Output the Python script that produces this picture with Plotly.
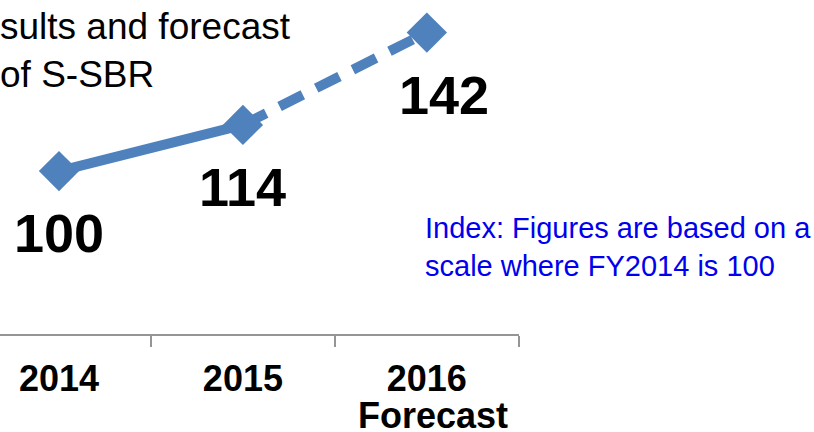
import plotly.graph_objects as go

# ---- data ----
categories = ["2014", "2015", "2016"]
tick_labels = ["2014", "2015", "2016"]
sub_labels = ["", "", "Forecast"]
index_values = [100, 114, 142]
actual_count = 2          # 2014-2015 are results, 2016 is a forecast
title_lines = ["sults and forecast", "of S-SBR"]
note_lines = ["Index: Figures are based on a", "scale where FY2014 is 100"]

BLUE = "#4F81BD"
FONT = "Liberation Sans, Arial, sans-serif"

fig = go.Figure()

# results (solid)
fig.add_trace(go.Scatter(
    x=categories[:actual_count], y=index_values[:actual_count],
    mode="lines", line=dict(color=BLUE, width=10),
    hoverinfo="skip", showlegend=False))
# forecast (dashed)
fig.add_trace(go.Scatter(
    x=categories[actual_count - 1:], y=index_values[actual_count - 1:],
    mode="lines", line=dict(color=BLUE, width=10, dash="26px,15px"),
    hoverinfo="skip", showlegend=False))
# markers
fig.add_trace(go.Scatter(
    x=categories, y=index_values, mode="markers",
    marker=dict(symbol="diamond", size=31, color=BLUE, line=dict(width=0)),
    showlegend=False, cliponaxis=False, hoverinfo="skip"))

annotations = []
# value labels (category axis annotations use the category index)
label_xshift = [0, 0, 17]
for i, v in enumerate(index_values):
    annotations.append(dict(
        x=i, y=v, xref="x", yref="y", text=str(v), showarrow=False,
        xshift=label_xshift[i], yshift=-62,
        font=dict(family=FONT, size=54, color="black", weight="bold")))

# second line of category labels
for i, s in enumerate(sub_labels):
    if s:
        annotations.append(dict(
            x=i, y=-0.178, xref="x", yref="paper", text=s, showarrow=False,
            xanchor="center", yanchor="top", xshift=6,
            font=dict(family=FONT, size=36, color="black", weight="bold")))

# title (cropped at left)
annotations.append(dict(
    x=0, y=1.0, xref="paper", yref="paper", xshift=-2, yshift=-4,
    text="<br>".join(title_lines), showarrow=False, align="left",
    xanchor="left", yanchor="top",
    font=dict(family=FONT, size=37, color="black")))

# index note
annotations.append(dict(
    x=423 / 519, y=(334 - 210) / 334, xref="paper", yref="paper",
    text="<br>".join(note_lines), showarrow=False, align="left",
    xanchor="left", yanchor="top",
    font=dict(family=FONT, size=29, color="#0000EE")))

fig.update_layout(
    width=814, height=432,
    margin=dict(l=0, r=295, t=0, b=98, autoexpand=False),
    paper_bgcolor="white", plot_bgcolor="white",
    annotations=annotations,
    hovermode=False,
    xaxis=dict(
        type="category", categoryorder="array", categoryarray=categories,
        tickmode="array", tickvals=categories, ticktext=tick_labels,
        range=[-0.3207, 2.501], tickson="boundaries",
        ticks="outside", ticklen=11, tickwidth=2, tickcolor="#959595",
        showline=True, linecolor="#959595", linewidth=2,
        showgrid=False, zeroline=False, automargin=False,
        ticklabelstandoff=12,
        tickfont=dict(family=FONT, size=36, color="black", weight="bold"),
        fixedrange=True),
    yaxis=dict(
        range=[50.6, 151.87], visible=False, showgrid=False,
        zeroline=False, fixedrange=True),
)

fig.write_html("out.html", config={"displayModeBar": False},
               post_script="document.body.style.margin='0px';")
